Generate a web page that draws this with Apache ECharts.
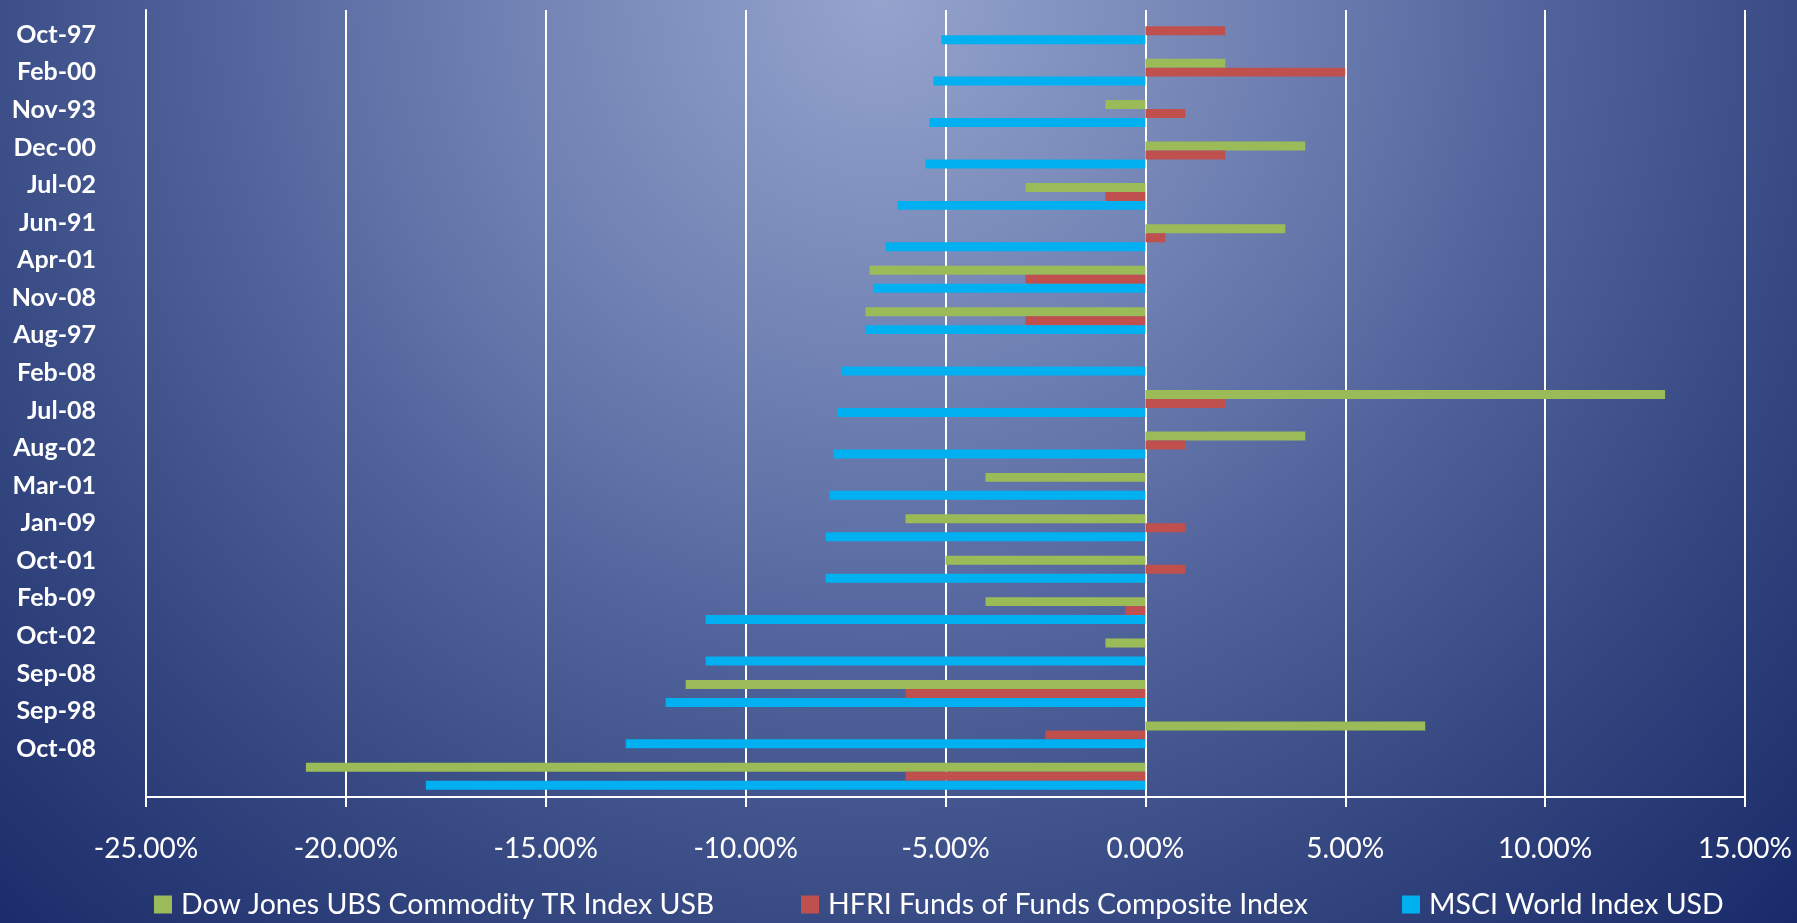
<!DOCTYPE html>
<html>
<head>
<meta charset="utf-8">
<title>Worst MSCI World months vs. commodities and funds of hedge funds</title>
<script src="https://cdn.jsdelivr.net/npm/echarts@6/dist/echarts.min.js"></script>
<style>
  html, body { margin: 0; padding: 0; width: 100%; height: 100%; overflow: hidden; background: #1a2a69; }
  #chart { width: 1797px; height: 923px; }
</style>
</head>
<body>
<div id="chart"></div>
<script>
// Month labels shown on the category axis (top to bottom)
const monthLabels = ['Oct-97', 'Feb-00', 'Nov-93', 'Dec-00', 'Jul-02', 'Jun-91', 'Apr-01', 'Nov-08', 'Aug-97', 'Feb-08',
                     'Jul-08', 'Aug-02', 'Mar-01', 'Jan-09', 'Oct-01', 'Feb-09', 'Oct-02', 'Sep-08', 'Sep-98', 'Oct-08'];

// Monthly returns in percent, one value per bar group (top to bottom)
const commodityReturns = [0, 2.0, -1.0, 4.0, -3.0, 3.5, -6.9, -7.0, 0, 13.0, 4.0, -4.0, -6.0, -5.0, -4.0, -1.0, -11.5, 7.0, -21.0];
const fofReturns       = [2.0, 5.0, 1.0, 2.0, -1.0, 0.5, -3.0, -3.0, 0, 2.0, 1.0, 0, 1.0, 1.0, -0.5, 0, -6.0, -2.5, -6.0];
const msciReturns      = [-5.1, -5.3, -5.4, -5.5, -6.2, -6.5, -6.8, -7.0, -7.6, -7.7, -7.8, -7.9, -8.0, -8.0, -11.0, -11.0, -12.0, -13.0, -18.0];

const seriesNames = ['Dow Jones UBS Commodity TR Index USB', 'HFRI Funds of Funds Composite Index', 'MSCI World Index USD'];

// Value axis ticks (percent)
const xMin = -25, xMax = 15, xStep = 5;

// Bar groups share the month names of the first rows
const barGroups = monthLabels.slice(0, msciReturns.length);

const WHITE = '#ffffff';
const FONT = 'Lato, "Open Sans", "DejaVu Sans", sans-serif';
const COLORS = ['#9bbb59', '#c0504d', '#00b0f0'];
const LEGEND_LEFT = [154, 801, 1402];

const chart = echarts.init(document.getElementById('chart'), null, { renderer: 'canvas' });

const option = {
  animation: false,
  backgroundColor: new echarts.graphic.RadialGradient(0.49, 0, 1.41, [
    { offset: 0, color: '#95a4cd' },
    { offset: 0.32, color: '#6c7eb0' },
    { offset: 0.5, color: '#52649c' },
    { offset: 0.75, color: '#34467f' },
    { offset: 1, color: '#192a69' }
  ]),
  textStyle: { fontFamily: FONT },
  grid: [
    // plot area with the bars
    { left: 146, right: 52, top: 10, bottom: 126, containLabel: false },
    // band used for the month label column
    { left: 146, right: 52, top: 16, height: 751.4, containLabel: false }
  ],
  xAxis: [
    {
      type: 'value',
      gridIndex: 0,
      min: xMin,
      max: xMax,
      interval: xStep,
      axisLine: { show: true, lineStyle: { color: WHITE, width: 2 } },
      axisTick: { show: true, length: 10, lineStyle: { color: WHITE, width: 2 } },
      splitLine: { show: true, lineStyle: { color: WHITE, width: 2 } },
      axisLabel: {
        color: WHITE,
        fontFamily: FONT,
        fontSize: 28,
        lineHeight: 28,
        margin: 38,
        formatter: v => v.toFixed(2) + '%'
      }
    },
    { type: 'value', gridIndex: 1, min: xMin, max: xMax, show: false }
  ],
  yAxis: [
    {
      // axis carrying the bar groups
      type: 'category',
      gridIndex: 0,
      data: barGroups,
      inverse: true,
      position: 'left',
      axisLine: { show: true, onZero: false, lineStyle: { color: WHITE, width: 2 } },
      axisTick: { show: false },
      axisLabel: { show: false },
      splitLine: { show: false }
    },
    {
      // axis carrying the month labels
      type: 'category',
      gridIndex: 1,
      data: monthLabels,
      inverse: true,
      position: 'left',
      axisLine: { show: false, onZero: false },
      axisTick: { show: false },
      splitLine: { show: false },
      axisLabel: {
        interval: 0,
        color: WHITE,
        fontFamily: FONT,
        fontWeight: 'bold',
        fontSize: 25,
        lineHeight: 25,
        margin: 50
      }
    }
  ],
  legend: seriesNames.map((name, i) => ({
    data: [name],
    left: LEGEND_LEFT[i],
    top: 890,
    padding: 0,
    icon: 'rect',
    itemWidth: 18,
    itemHeight: 18,
    textStyle: { color: WHITE, fontFamily: FONT, fontSize: 28.5, lineHeight: 28, padding: [0, 0, 0, 4] }
  })),
  series: [commodityReturns, fofReturns, msciReturns].map((values, i) => ({
    type: 'bar',
    name: seriesNames[i],
    data: values,
    xAxisIndex: 0,
    yAxisIndex: 0,
    barGap: '0%',
    barCategoryGap: '35%',
    itemStyle: { color: COLORS[i] }
  }))
};

chart.setOption(option);
</script>
</body>
</html>
